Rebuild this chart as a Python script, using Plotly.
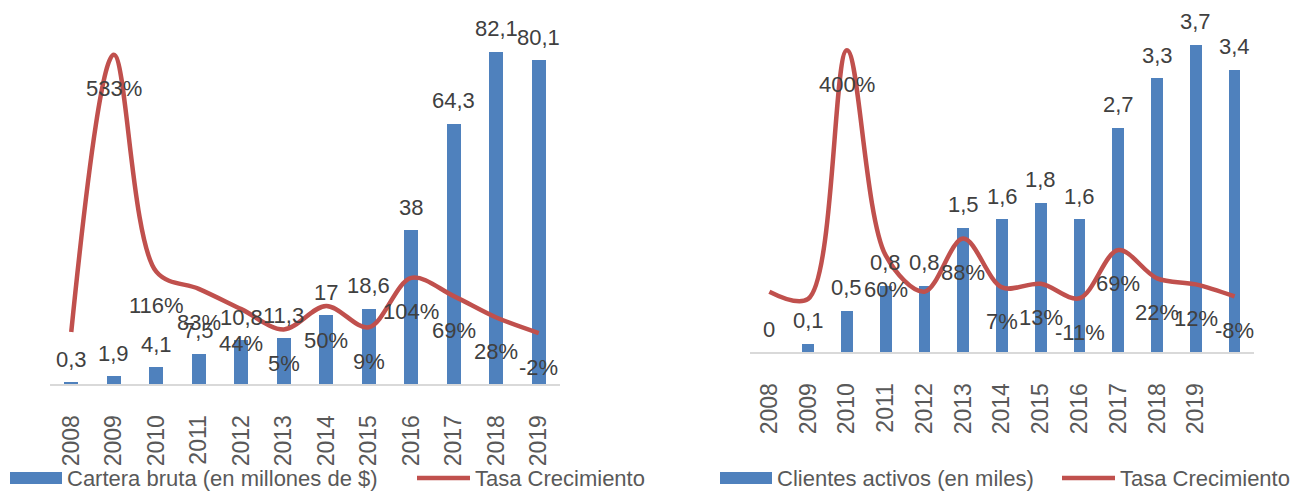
import plotly.graph_objects as go

# ---------------- data ----------------
years_left = ["2008", "2009", "2010", "2011", "2012", "2013", "2014", "2015", "2016", "2017", "2018", "2019"]
cartera = [0.3, 1.9, 4.1, 7.5, 10.8, 11.3, 17, 18.6, 38, 64.3, 82.1, 80.1]
tasa_left = [0, 533, 116, 83, 44, 5, 50, 9, 104, 69, 28, -2]
tasa_left_labels = ["", "533%", "116%", "83%", "44%", "5%", "50%", "9%", "104%", "69%", "28%", "-2%"]

years_right = ["2008", "2009", "2010", "2011", "2012", "2013", "2014", "2015", "2016", "2017", "2018", "2019", ""]
clientes = [0, 0.1, 0.5, 0.8, 0.8, 1.5, 1.6, 1.8, 1.6, 2.7, 3.3, 3.7, 3.4]
tasa_right = [0, -12, 400, 60, 0, 88, 7, 13, -11, 69, 22, 12, -8]
tasa_right_labels = ["", "", "400%", "60%", "", "88%", "7%", "13%", "-11%", "69%", "22%", "12%", "-8%"]

legend_left = ["Cartera bruta (en millones de $)", "Tasa Crecimiento"]
legend_right = ["Clientes activos (en miles)", "Tasa Crecimiento"]

# ---------------- style ----------------
W, H = 1298, 492
BLUE = "#4F81BD"
RED = "#C0504D"
TXT = "#404040"
TICK = "#595959"
FONT = "Liberation Sans"


def fmt(v):
    return f"{v:g}".replace(".", ",")


def px(x):
    return x / W


def py(y):
    return 1 - y / H


xl = list(range(len(years_left)))
xr = list(range(len(years_right)))

fig = go.Figure()

fig.add_trace(go.Bar(
    x=xl, y=cartera, xaxis="x", yaxis="y",
    marker=dict(color=BLUE, line=dict(width=0)), width=0.32,
    showlegend=False,
))
fig.add_trace(go.Scatter(
    x=xl, y=tasa_left, xaxis="x", yaxis="y2", mode="lines",
    line=dict(color=RED, width=4.5, shape="spline", smoothing=0.95),
    cliponaxis=False, showlegend=False,
))
fig.add_trace(go.Bar(
    x=xr, y=clientes, xaxis="x2", yaxis="y3",
    marker=dict(color=BLUE, line=dict(width=0)), width=0.3,
    showlegend=False,
))
fig.add_trace(go.Scatter(
    x=xr, y=tasa_right, xaxis="x2", yaxis="y4", mode="lines",
    line=dict(color=RED, width=4.5, shape="spline", smoothing=0.95),
    cliponaxis=False, showlegend=False,
))

LBL = dict(family=FONT, size=22, color=TXT)
annotations = []
# bar value labels
for i, v in enumerate(cartera):
    annotations.append(dict(x=i, y=v, xref="x", yref="y", text=fmt(v), showarrow=False,
                            yanchor="middle", yshift=23, font=LBL))
for i, v in enumerate(clientes):
    annotations.append(dict(x=i, y=v, xref="x2", yref="y3", text=fmt(v), showarrow=False,
                            yanchor="middle", yshift=23, font=LBL))
# growth-rate labels
for i, (v, t) in enumerate(zip(tasa_left, tasa_left_labels)):
    if t:
        annotations.append(dict(x=i, y=v, xref="x", yref="y2", text=t, showarrow=False,
                                yshift=-34, font=LBL))
for i, (v, t) in enumerate(zip(tasa_right, tasa_right_labels)):
    if t:
        annotations.append(dict(x=i, y=v, xref="x2", yref="y4", text=t, showarrow=False,
                                yshift=-34, font=LBL))

shapes = []


def add_legend(x0, yc, labels, x_line):
    shapes.append(dict(type="rect", xref="paper", yref="paper",
                       x0=px(x0), x1=px(x0 + 52), y0=py(yc + 6), y1=py(yc - 6),
                       fillcolor=BLUE, line=dict(width=0)))
    annotations.append(dict(x=px(x0 + 56), y=py(yc), xref="paper", yref="paper",
                            xanchor="left", yanchor="middle", text=labels[0], showarrow=False,
                            borderpad=0, font=dict(family=FONT, size=22, color=TICK)))
    shapes.append(dict(type="line", xref="paper", yref="paper",
                       x0=px(x_line), x1=px(x_line + 53), y0=py(yc), y1=py(yc),
                       line=dict(color=RED, width=4.5)))
    annotations.append(dict(x=px(x_line + 57), y=py(yc), xref="paper", yref="paper",
                            xanchor="left", yanchor="middle", text=labels[1], showarrow=False,
                            borderpad=0, font=dict(family=FONT, size=22, color=TICK)))


add_legend(10, 478, legend_left, 417)
add_legend(720, 478, legend_right, 1062)

xcommon = dict(showgrid=False, zeroline=False, showline=True, linecolor="#D9D9D9", linewidth=2,
               tickangle=-90, ticks="", ticklabelstandoff=20,
               tickfont=dict(family=FONT, size=23, color=TICK))

fig.update_layout(
    width=W, height=H,
    margin=dict(l=0, r=0, t=0, b=0),
    paper_bgcolor="white", plot_bgcolor="white",
    bargap=0,
    xaxis=dict(domain=[px(50), px(560)], anchor="y", range=[-0.5, len(xl) - 0.5],
               tickmode="array", tickvals=xl, ticktext=years_left, **xcommon),
    yaxis=dict(domain=[py(384), py(20)], anchor="x", range=[0, 90], visible=False),
    yaxis2=dict(overlaying="y", anchor="x", range=[-100, 600], visible=False),
    xaxis2=dict(domain=[px(750), px(1254)], anchor="y3", range=[-0.5, len(xr) - 0.5],
                tickmode="array", tickvals=xr, ticktext=years_right, **xcommon),
    yaxis3=dict(domain=[py(352), py(20)], anchor="x2", range=[0, 4], visible=False),
    yaxis4=dict(overlaying="y3", anchor="x2", range=[-100, 450], visible=False),
    annotations=annotations,
    shapes=shapes,
)

fig.write_html("out.html")
